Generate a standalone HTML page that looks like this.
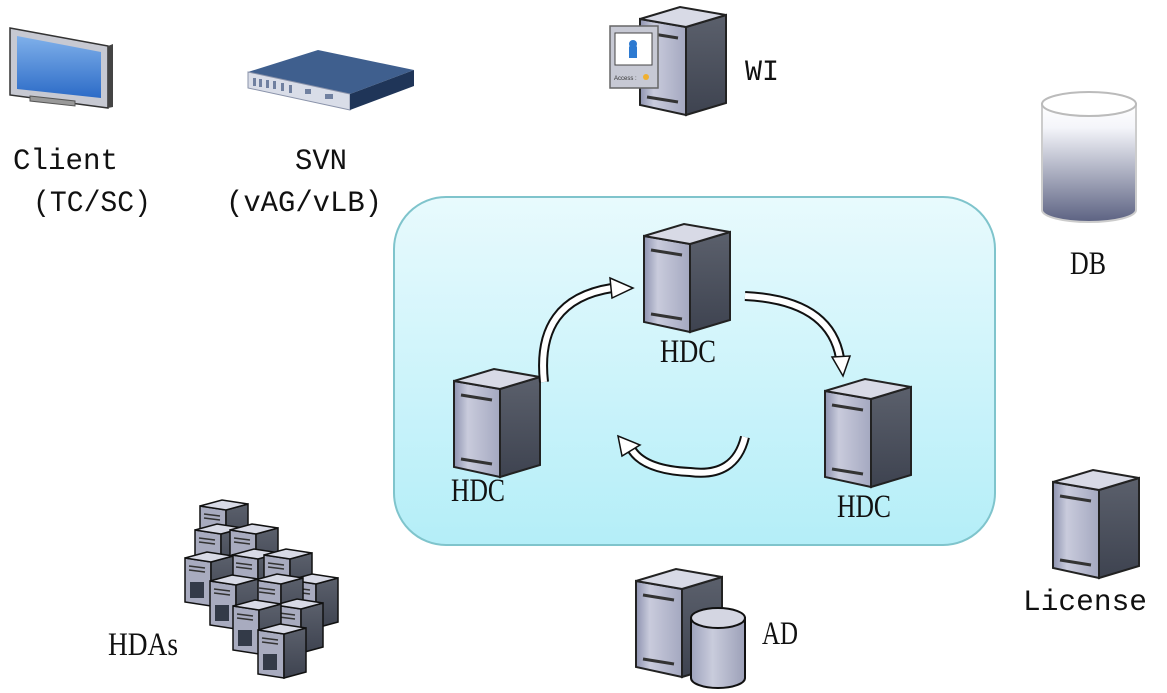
<!DOCTYPE html>
<html><head><meta charset="utf-8"><style>
html,body{margin:0;padding:0;background:#fff;}
svg{display:block}
.m{font-family:"Liberation Mono","DejaVu Sans Mono",monospace;font-size:30px;fill:#111}
.s{font-family:"Liberation Serif",serif;font-size:33px;fill:#111}
</style></head><body>
<svg width="1167" height="693" viewBox="0 0 1167 693" xmlns="http://www.w3.org/2000/svg">
<defs>
<linearGradient id="box" x1="0" y1="0" x2="0" y2="1">
<stop offset="0" stop-color="#e8fafd"/><stop offset="1" stop-color="#b4eef8"/></linearGradient>
<linearGradient id="front" x1="0" y1="0" x2="1" y2="0">
<stop offset="0" stop-color="#8e93b0"/><stop offset="0.3" stop-color="#c9cbdc"/><stop offset="1" stop-color="#a4a8c0"/></linearGradient>
<linearGradient id="side" x1="0" y1="0" x2="0" y2="1">
<stop offset="0" stop-color="#5b606c"/><stop offset="1" stop-color="#3e4350"/></linearGradient>
<linearGradient id="db" x1="0" y1="0" x2="0" y2="1">
<stop offset="0" stop-color="#ffffff"/><stop offset="0.2" stop-color="#f4f5fa"/><stop offset="1" stop-color="#5c6282"/></linearGradient>
<linearGradient id="cyl" x1="0" y1="0" x2="1" y2="0">
<stop offset="0" stop-color="#9ea3bd"/><stop offset="0.4" stop-color="#c9ccdc"/><stop offset="1" stop-color="#9ca0b8"/></linearGradient>
<linearGradient id="scr" x1="0" y1="0" x2="0" y2="1">
<stop offset="0" stop-color="#7fb0ea"/><stop offset="1" stop-color="#2c6bc7"/></linearGradient>
<g id="srv">
<polygon points="0,14 46,22 46,110 0,100" fill="url(#front)" stroke="#222" stroke-width="2"/>
<polygon points="46,22 86,10 86,98 46,110" fill="url(#side)" stroke="#222" stroke-width="2"/>
<polygon points="0,14 40,2 86,10 46,22" fill="#d8dae6" stroke="#222" stroke-width="2"/>
<line x1="7" y1="28" x2="38" y2="33" stroke="#333" stroke-width="3"/>
<line x1="7" y1="92" x2="38" y2="97" stroke="#333" stroke-width="3"/>
</g>
<g id="mini">
<polygon points="0,8 26,12 26,56 0,52" fill="#a8abbf" stroke="#111" stroke-width="1.5"/>
<polygon points="26,12 48,6 48,50 26,56" fill="url(#side)" stroke="#111" stroke-width="1.5"/>
<polygon points="0,8 22,2 48,6 26,12" fill="#d8dae6" stroke="#111" stroke-width="1.5"/>
<line x1="4" y1="16" x2="20" y2="18" stroke="#333" stroke-width="1.5"/>
<line x1="4" y1="20" x2="20" y2="22" stroke="#333" stroke-width="1.5"/>
<rect x="5" y="32" width="14" height="16" fill="#333a48"/>
</g>
</defs>

<rect x="394" y="197" width="601" height="348" rx="52" fill="url(#box)" stroke="#7fc4cc" stroke-width="2"/>

<!-- Client monitor -->
<polygon points="10,28 108,46 108,108 10,95" fill="#c7c9d2" stroke="#333" stroke-width="1.5"/>
<polygon points="108,46 113,44 113,107 108,108" fill="#444"/>
<polygon points="17,36 101,52 101,98 17,89" fill="url(#scr)"/>
<polygon points="30,96 75,101 75,106 30,101" fill="#999" stroke="#555"/>
<text x="13" y="169" class="m" textLength="105" lengthAdjust="spacingAndGlyphs">Client</text>
<text x="33" y="211" class="m" textLength="118" lengthAdjust="spacingAndGlyphs">(TC/SC)</text>

<!-- SVN device -->
<polygon points="248,72 318,50 414,70 350,94" fill="#3f5f8e"/>
<polygon points="248,72 350,94 350,110 248,88" fill="#d9dde8" stroke="#8a93aa"/>
<polygon points="350,94 414,70 414,86 350,110" fill="#1f3558"/>
<g fill="#7080a0"><rect x="253" y="78" width="3" height="8"/><rect x="259" y="79" width="3" height="8"/><rect x="266" y="80" width="3" height="8"/><rect x="273" y="81" width="3" height="8"/><rect x="281" y="83" width="3" height="8"/><rect x="289" y="85" width="3" height="8"/><rect x="305" y="89" width="6" height="5"/><rect x="325" y="94" width="8" height="5"/></g>
<text x="295" y="169" class="m" textLength="52" lengthAdjust="spacingAndGlyphs">SVN</text>
<text x="226" y="211" class="m" textLength="156" lengthAdjust="spacingAndGlyphs">(vAG/vLB)</text>

<!-- WI -->
<use href="#srv" x="640" y="5"/>
<rect x="610" y="26" width="48" height="62" fill="#c7c9d4" stroke="#666" stroke-width="1.5"/>
<rect x="615" y="33" width="37" height="32" fill="#fff" stroke="#444"/>
<path d="M629,58 L629,47 Q633,40 637,47 L637,58 Z" fill="#2d7ad1"/>
<circle cx="633" cy="44" r="4" fill="#2d7ad1"/>
<text x="614" y="80" font-family="Liberation Sans" font-size="6" fill="#333">Access :</text>
<circle cx="646" cy="77" r="3" fill="#f0b030"/>
<text x="745" y="80" class="m" textLength="34" lengthAdjust="spacingAndGlyphs">WI</text>

<!-- DB -->
<path d="M1042,104 L1042,210 A47,12 0 0 0 1136,210 L1136,104 Z" fill="url(#db)" stroke="#ccc" stroke-width="2"/>
<ellipse cx="1089" cy="104" rx="47" ry="12" fill="#fff" stroke="#bbb" stroke-width="2"/>
<text x="1070" y="274" class="s" textLength="36" lengthAdjust="spacingAndGlyphs">DB</text>

<!-- HDCs -->
<use href="#srv" x="644" y="222"/>
<text x="660" y="362" class="s" textLength="56" lengthAdjust="spacingAndGlyphs">HDC</text>
<use href="#srv" x="454" y="367"/>
<text x="451" y="501" class="s" textLength="54" lengthAdjust="spacingAndGlyphs">HDC</text>
<use href="#srv" x="825" y="377"/>
<text x="837" y="517" class="s" textLength="54" lengthAdjust="spacingAndGlyphs">HDC</text>

<!-- arrows -->
<g fill="none" stroke-linecap="butt">
<path d="M544,382 Q535,300 612,288" stroke="#111" stroke-width="10"/>
<path d="M544,382 Q535,300 612,288" stroke="#fff" stroke-width="6"/>
<path d="M745,296 Q830,300 840,358" stroke="#111" stroke-width="10"/>
<path d="M745,296 Q830,300 840,358" stroke="#fff" stroke-width="6"/>
<path d="M745,437 Q735,478 690,472 Q645,470 632,450" stroke="#111" stroke-width="10"/>
<path d="M745,437 Q735,478 690,472 Q645,470 632,450" stroke="#fff" stroke-width="6"/>
</g>
<polygon points="610,278 633,288 612,298" fill="#fff" stroke="#111" stroke-width="1.5"/>
<polygon points="832,357 850,356 843,376" fill="#fff" stroke="#111" stroke-width="1.5"/>
<polygon points="622,456 618,436 640,445" fill="#fff" stroke="#111" stroke-width="1.5"/>

<!-- HDAs -->
<use href="#mini" x="200" y="498"/>
<use href="#mini" x="195" y="522"/>
<use href="#mini" x="230" y="522"/>
<use href="#mini" x="232" y="547"/>
<use href="#mini" x="264" y="547"/>
<use href="#mini" x="290" y="572"/>
<use href="#mini" x="185" y="550"/>
<use href="#mini" x="255" y="572"/>
<use href="#mini" x="275" y="597"/>
<use href="#mini" x="210" y="573"/>
<use href="#mini" x="233" y="598"/>
<use href="#mini" x="258" y="622"/>
<text x="108" y="655" class="s" textLength="70" lengthAdjust="spacingAndGlyphs">HDAs</text>

<!-- AD -->
<use href="#srv" x="636" y="567"/>
<path d="M691,618 L691,678 A27,10 0 0 0 745,678 L745,618 Z" fill="url(#cyl)" stroke="#111" stroke-width="2"/>
<ellipse cx="718" cy="618" rx="27" ry="10" fill="#d4d6e2" stroke="#111" stroke-width="2"/>
<text x="762" y="644" class="s" textLength="36" lengthAdjust="spacingAndGlyphs">AD</text>

<!-- License -->
<use href="#srv" x="1053" y="468"/>
<text x="1023" y="610" class="m" textLength="124" lengthAdjust="spacingAndGlyphs">License</text>
</svg>
</body></html>
